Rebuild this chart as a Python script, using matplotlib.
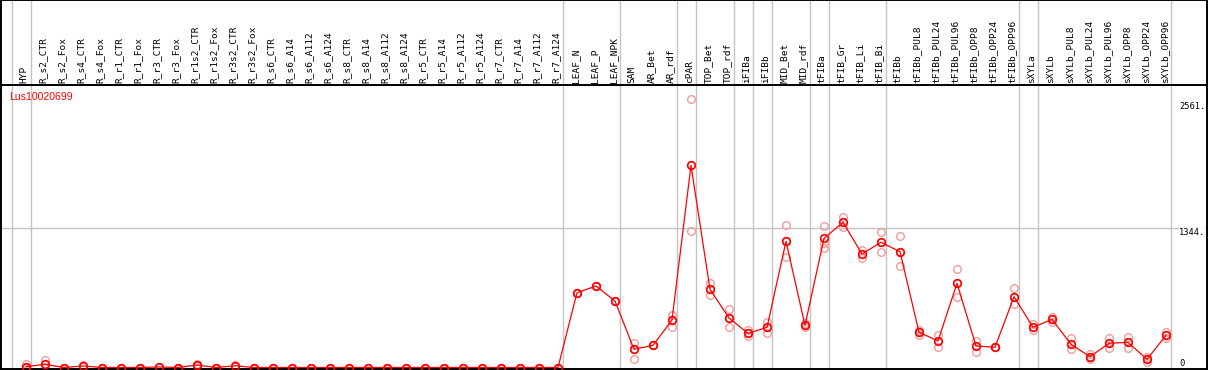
#!/usr/bin/env python3

"""Expression profile of Lus10020699 across tissues / treatments."""

import matplotlib.pyplot as plt

categories = ["HYP",
              "R_s2_CTR", "R_s2_Fox", "R_s4_CTR", "R_s4_Fox",
              "R_r1_CTR", "R_r1_Fox", "R_r3_CTR", "R_r3_Fox",
              "R_r1s2_CTR", "R_r1s2_Fox", "R_r3s2_CTR", "R_r3s2_Fox",
              "R_s6_CTR", "R_s6_A14", "R_s6_A112", "R_s6_A124",
              "R_s8_CTR", "R_s8_A14", "R_s8_A112", "R_s8_A124",
              "R_r5_CTR", "R_r5_A14", "R_r5_A112", "R_r5_A124",
              "R_r7_CTR", "R_r7_A14", "R_r7_A112", "R_r7_A124",
              "LEAF_N", "LEAF_P", "LEAF_NPK",
              "SAM", "AR_Bet", "AR_rdf", "cPAR", "TOP_Bet", "TOP_rdf",
              "iFIBa", "iFIBb", "MID_Bet", "MID_rdf",
              "tFIBa", "tFIB_Gr", "tFIB_Li", "tFIB_Bi", "tFIBb",
              "tFIBb_PUL8", "tFIBb_PUL24", "tFIBb_PUL96",
              "tFIBb_OPP8", "tFIBb_OPP24", "tFIBb_OPP96",
              "sXYLa", "sXYLb",
              "sXYLb_PUL8", "sXYLb_PUL24", "sXYLb_PUL96",
              "sXYLb_OPP8", "sXYLb_OPP24", "sXYLb_OPP96"]

mean = [8, 31, 0, 15, 0, 0, 0, 5, 0, 24, 0, 17,
        0, 0, 0, 0, 0, 0, 0, 0, 0, 0, 0, 0, 0, 0, 0, 0, 0,
        722, 787, 642,
        176, 214, 459, 1952, 755, 478, 330, 388, 1218, 407,
        1247, 1402, 1096, 1209, 1118,
        340, 256, 813, 208, 195, 684,
        388, 465, 224, 104, 234, 243, 79, 311]

rep_hi = [31, 72, 0, 20, 0, 0, 0, 8, 0, 31, 0, 24,
          0, 0, 0, 0, 0, 0, 0, 0, 0, 0, 0, 0, 0, 0, 0, 0, 0,
          722, 787, 642,
          234, 214, 507, 2595, 813, 562, 362, 442, 1373, 427,
          1366, 1450, 1134, 1305, 1270,
          362, 314, 948, 259, 195, 764,
          417, 491, 282, 130, 288, 297, 104, 346]

rep_lo = [0, 0, 0, 10, 0, 0, 0, 2, 0, 17, 0, 10,
          0, 0, 0, 0, 0, 0, 0, 0, 0, 0, 0, 0, 0, 0, 0, 0, 0,
          722, 787, 642,
          79, 214, 394, 1315, 700, 391, 304, 330, 1064, 388,
          1157, 1359, 1054, 1112, 980,
          314, 201, 684, 147, 195, 610,
          362, 442, 176, 79, 191, 185, 56, 282]

rep_mid = list(mean)
rep_mid[42] = 1199

# last category of each group (separators drawn just right of them)
group_ends = [-1, 0, 28, 31, 34, 35, 37, 38, 39, 41, 42, 45, 52, 53, 60]

tick_values = [2561, 1344, 0]
tick_labels = ["2561.", "1344.", "0"]
gene = "Lus10020699"

W, H = 1209, 370
fig = plt.figure(figsize=(W / 100, H / 100), dpi=100)

# pixel layout
x0_px, dx_px = 26, 19          # first category centre, spacing
left_px, right_px = 1, 1207
head_px, bottom_px = 85, 369
zero_px, upp = 367.5, 9.655    # y pixel of zero, units per pixel

xlim = ((left_px - x0_px) / dx_px, (right_px - x0_px) / dx_px)
ylim = ((zero_px - bottom_px) * upp, (zero_px - head_px) * upp)

ax = fig.add_axes([left_px / W, (H - bottom_px) / H,
                   (right_px - left_px) / W, (bottom_px - head_px) / H])
hx = fig.add_axes([left_px / W, (H - head_px) / H,
                   (right_px - left_px) / W, head_px / H], sharex=ax)

for a in (ax, hx):
    a.set_xlim(*xlim)
    a.set_xticks([])
    a.set_yticks([])
    for s in a.spines.values():
        s.set_color("black")
        s.set_linewidth(1.4)
    for g in group_ends:
        a.axvline(g + 0.25, color="#c4c4c4", lw=1.0, zorder=0)
ax.set_ylim(*ylim)
hx.set_ylim(0, 1)

ax.axhline(tick_values[1], color="#c4c4c4", lw=1.0, zorder=0)

xs = list(range(len(categories)))
for rep in (rep_hi, rep_lo, rep_mid):
    ax.plot(xs, rep, ls="none", marker="o", ms=5.5, mfc="none",
            mec="#f19c9c", mew=1.0, zorder=2)
ax.plot(xs, mean, color="red", lw=0.9, marker="o", ms=5.5, mfc="none",
        mec="red", mew=1.2, zorder=3)

for i, name in enumerate(categories):
    hx.text(i - 0.09, 2 / head_px, name, rotation=90, ha="center",
            va="bottom", family="DejaVu Sans Mono", fontsize=6.8)

tx = (1179 - x0_px) / dx_px
for v, lab in zip(tick_values, tick_labels):
    ax.text(tx, v, lab, ha="left", va="bottom" if v == 0 else "top",
            family="DejaVu Sans Mono", fontsize=6.3, zorder=4,
            bbox=dict(fc="white", ec="none", pad=0.3))

ax.text(8 / (right_px - left_px), 1 - 12 / (bottom_px - head_px), gene,
        transform=ax.transAxes, color="red", family="Liberation Sans",
        fontsize=7.6, ha="left", va="center")

plt.savefig("out.png", dpi=100)
